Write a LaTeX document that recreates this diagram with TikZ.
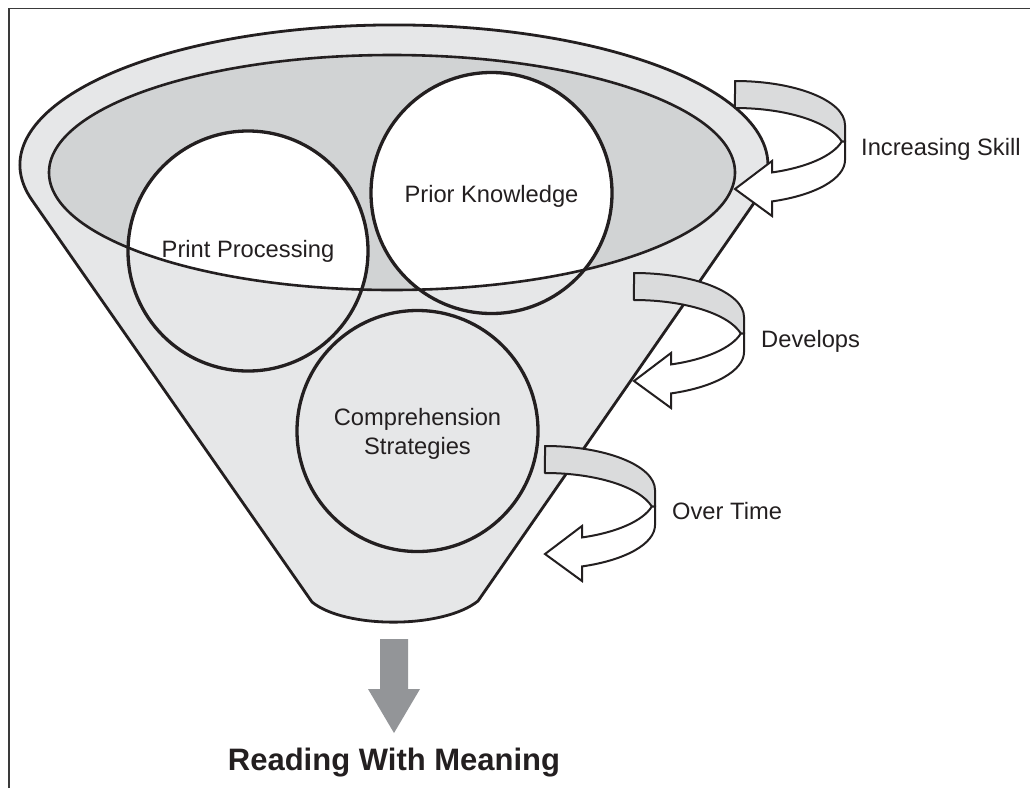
\documentclass[tikz,border=0pt]{standalone}
\usepackage{fontspec}
\setmainfont{Liberation Sans}
\definecolor{inkc}{HTML}{231F20}
\definecolor{funnelc}{HTML}{E6E7E8}
\definecolor{rimc}{HTML}{D1D3D4}
\definecolor{ribc}{HTML}{DADBDC}
\definecolor{arrowc}{HTML}{939598}
\definecolor{framec}{HTML}{3A3A3A}
\tikzset{
  ribbonarrow/.pic={
    \filldraw[fill=ribc,draw=inkc,line width=2pt,line join=round]
      (0,0) arc[start angle=-90,end angle=0,x radius=110,y radius=44]
      -- (110,60.5) -- (106.8,60.5)
      arc[start angle=-13.8,end angle=-90,x radius=110,y radius=44] -- cycle;
    \filldraw[fill=white,draw=inkc,line width=2pt,line join=miter]
      (106.8,60.5) arc[start angle=13.8,end angle=70.3,x radius=110,y radius=44]
      -- (37,80) -- (0,108) -- (37,135) -- (37.1,120.4)
      arc[start angle=70.3,end angle=0,x radius=110,y radius=44]
      -- (110,60.5) -- cycle;
  }
}
\begin{document}
\begin{tikzpicture}[x=1pt,y=-1pt,
  lbl/.style={text=inkc,font=\fontsize{23.7}{29}\selectfont,inner sep=0pt},
  circ/.style={draw=inkc,line width=3.3pt},
  title/.style={text=inkc,font=\fontsize{31}{36}\selectfont\bfseries,inner sep=0pt}]
\useasboundingbox (0,0) rectangle (1030,788);
% frame
\draw[framec,line width=1.6pt] (9,788) -- (9,8.5) -- (1030,8.5);
% funnel body
\filldraw[fill=funnelc,draw=inkc,line width=2.8pt,line join=round]
  (31.9,200) arc[start angle=165.5,end angle=374.5,x radius=374,y radius=140]
  -- (478,601) .. controls (443,629) and (345,629) .. (312,602) -- cycle;
% rim
\fill[rimc] (392,172.5) ellipse[x radius=343,y radius=117.5];
\begin{scope}
  \clip (392,172.5) ellipse[x radius=343,y radius=117.5];
  \fill[white] (248,251) circle[radius=120];
  \fill[white] (491.5,193) circle[radius=120.5];
\end{scope}
\draw[inkc,line width=2.6pt] (392,172.5) ellipse[x radius=343,y radius=117.5];
% circles
\draw[circ] (248,251) circle[radius=120];
\draw[circ] (491.5,193) circle[radius=120.5];
\draw[circ] (417.5,431) circle[radius=120.5];
% labels in circles
\node[lbl,anchor=base] (pp) at (248,257) {Print Processing};
\node[lbl,anchor=base] (pk) at (491.5,202.5) {Prior Knowledge};
\node[lbl,anchor=base] (cs1) at (417.5,425) {Comprehension};
\node[lbl,anchor=base] (cs2) at (417.5,454) {Strategies};
% ribbon arrows
\pic at (735,81) {ribbonarrow};
\pic at (634,273) {ribbonarrow};
\pic at (545,446) {ribbonarrow};
\node[lbl,anchor=base west] (is) at (861,155) {Increasing Skill};
\node[lbl,anchor=base west] (dv) at (761,347) {Develops};
\node[lbl,anchor=base west] (ot) at (672,519) {Over Time};
% output arrow
\fill[arrowc] (380,639) -- (408,639) -- (408,689) -- (420,689) -- (394,733)
  -- (368,689) -- (380,689) -- cycle;
\node[title,anchor=base] (rwm) at (394,770) {Reading With Meaning};
\end{tikzpicture}
\end{document}
